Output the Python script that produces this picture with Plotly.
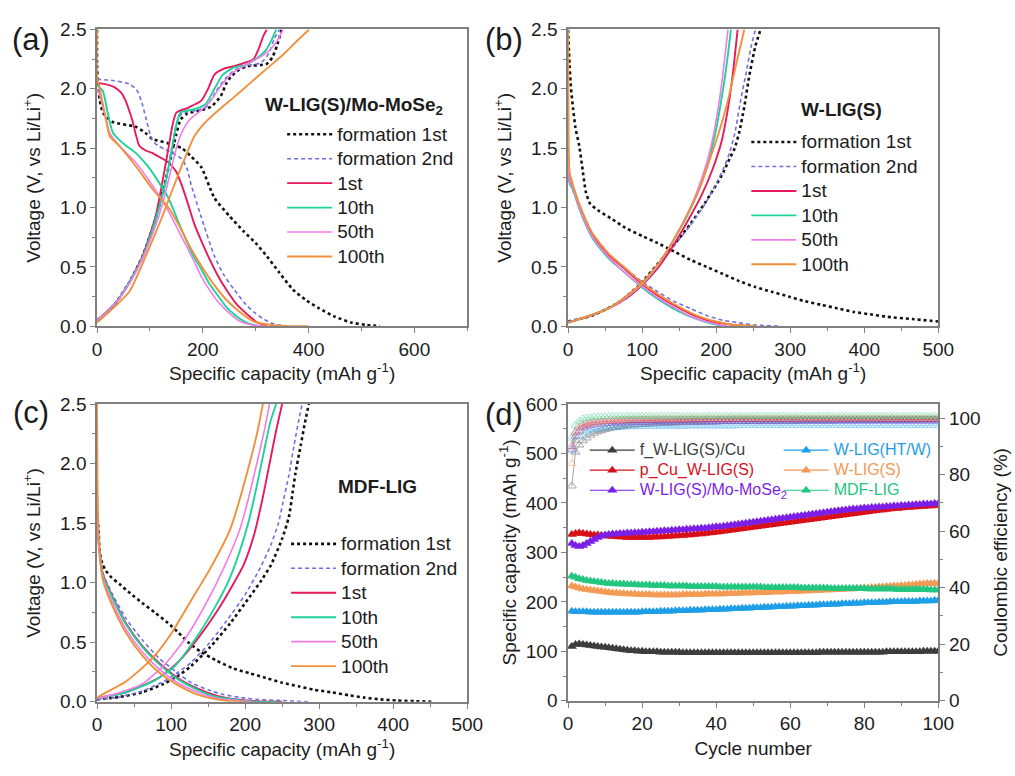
import plotly.graph_objects as go

W, H = 1015, 776
FONT = "Liberation Sans, Arial, sans-serif"
INK = "#1c1c1c"
FRAME = "#808080"

# ---------------- galvanostatic profiles: (capacity mAh/g, voltage V) ----------------
CYCLE_NAMES = ["formation 1st", "formation 2nd", "1st", "10th", "50th", "100th"]
CYCLE_COLORS = ["#111111", "#6f6fe0", "#e8195a", "#1dd39a", "#f07de8", "#f0903c"]
CYCLE_DASH = ["dot", "4px,3px", "solid", "solid", "solid", "solid"]
CYCLE_WIDTH = [2.6, 1.6, 1.9, 1.9, 1.6, 1.9]

# (a) W-LIG(S)/Mo-MoSe2
A_F1_DIS = [(0, 2.5), (0, 2.2), (2, 2.03), (5, 1.91), (11, 1.80), (30, 1.72), (73, 1.68), (91, 1.63),
            (104, 1.58), (135, 1.54), (160, 1.50), (178, 1.43), (197, 1.34), (222, 1.08), (250, 0.93),
            (277, 0.80), (300, 0.70), (321, 0.59), (345, 0.45), (370, 0.31), (395, 0.22), (420, 0.15),
            (450, 0.08), (482, 0.03), (510, 0.01), (535, 0.0)]
A_F1_CHG = [(0, 0.05), (20, 0.12), (36, 0.2), (61, 0.37), (86, 0.59), (111, 0.91), (129, 1.22), (141, 1.45),
            (150, 1.62), (158, 1.74), (170, 1.79), (197, 1.82), (216, 1.85), (234, 1.94), (245, 2.05),
            (253, 2.1), (268, 2.16), (284, 2.19), (321, 2.21), (332, 2.27), (340, 2.36), (349, 2.5)]
A_F2_DIS = [(0, 2.08), (30, 2.07), (61, 2.04), (75, 1.99), (85, 1.88), (92, 1.76), (104, 1.57), (115, 1.52),
            (129, 1.49), (160, 1.41), (170, 1.33), (178, 1.19), (197, 0.92), (222, 0.59), (240, 0.43),
            (259, 0.31), (280, 0.19), (296, 0.12), (315, 0.06), (333, 0.02), (362, 0.0)]
A_F2_CHG = [(0, 0.05), (36, 0.2), (61, 0.37), (86, 0.59), (111, 0.91), (129, 1.22), (141, 1.5), (150, 1.7),
            (160, 1.79), (190, 1.82), (205, 1.84), (225, 1.98), (245, 2.1), (265, 2.17), (290, 2.2),
            (310, 2.22), (325, 2.3), (335, 2.42), (345, 2.5)]
A_C1_DIS = [(0, 2.05), (15, 2.04), (30, 2.02), (45, 1.97), (54, 1.9), (62, 1.8), (67, 1.73), (73, 1.62),
            (80, 1.52), (92, 1.48), (104, 1.46), (120, 1.42), (135, 1.38), (150, 1.30), (160, 1.19),
            (172, 1.03), (184, 0.86), (197, 0.72), (210, 0.59), (228, 0.43), (247, 0.29), (265, 0.18),
            (284, 0.10), (300, 0.04), (321, 0.0)]
A_C1_CHG = [(0, 0.05), (36, 0.2), (61, 0.37), (86, 0.59), (111, 0.93), (125, 1.25), (135, 1.5), (143, 1.7),
            (150, 1.8), (172, 1.84), (197, 1.9), (210, 2.0), (222, 2.12), (240, 2.17), (259, 2.19),
            (280, 2.22), (296, 2.25), (305, 2.33), (315, 2.45), (321, 2.5)]
A_C10_DIS = [(0, 2.03), (11, 1.98), (20, 1.8), (30, 1.63), (42, 1.57), (55, 1.52), (73, 1.46), (90, 1.38),
             (104, 1.30), (120, 1.19), (135, 1.08), (150, 0.92), (166, 0.75), (180, 0.61), (197, 0.48),
             (212, 0.36), (228, 0.26), (243, 0.17), (259, 0.10), (278, 0.04), (296, 0.01), (310, 0.0)]
A_C10_CHG = [(0, 0.05), (36, 0.2), (61, 0.37), (86, 0.58), (111, 0.9), (129, 1.2), (142, 1.5), (150, 1.7),
             (158, 1.8), (185, 1.83), (205, 1.87), (222, 2.0), (238, 2.12), (259, 2.18), (280, 2.2),
             (300, 2.25), (320, 2.33), (332, 2.43), (339, 2.5)]
A_C50_DIS = [(0, 2.0), (5, 1.95), (11, 1.84), (18, 1.72), (24, 1.63), (42, 1.52), (73, 1.38), (104, 1.19),
             (135, 0.97), (150, 0.84), (166, 0.70), (182, 0.56), (197, 0.42), (212, 0.31), (228, 0.21),
             (250, 0.11), (271, 0.04), (295, 0.01), (320, 0.0)]
A_C50_CHG = [(0, 0.05), (36, 0.2), (61, 0.36), (86, 0.57), (111, 0.85), (125, 1.05), (140, 1.32), (150, 1.5),
             (160, 1.63), (175, 1.74), (197, 1.82), (215, 1.9), (235, 2.03), (255, 2.13), (280, 2.2),
             (305, 2.26), (325, 2.32), (340, 2.4), (352, 2.5)]
A_C100_DIS = [(0, 2.5), (0, 2.1), (5, 2.0), (11, 1.87), (18, 1.72), (24, 1.6), (42, 1.52), (73, 1.35),
              (104, 1.16), (135, 1.0), (155, 0.85), (172, 0.70), (190, 0.56), (210, 0.42), (228, 0.31),
              (247, 0.21), (270, 0.12), (296, 0.04), (330, 0.01), (362, 0.0), (400, 0.0)]
A_C100_CHG = [(0, 0.03), (30, 0.15), (61, 0.29), (92, 0.59), (123, 0.92), (140, 1.12), (160, 1.35),
              (172, 1.48), (184, 1.6), (197, 1.68), (210, 1.74), (235, 1.84), (259, 1.93), (290, 2.05),
              (321, 2.17), (350, 2.28), (375, 2.39), (401, 2.5)]

# (b) W-LIG(S)
B_F1_DIS = [(0, 2.5), (2, 2.2), (4, 2.0), (6.6, 1.84), (10, 1.67), (15, 1.52), (20, 1.3), (24, 1.13),
            (30, 1.03), (42, 0.97), (60, 0.9), (77, 0.83), (100, 0.76), (121, 0.70), (143, 0.63),
            (165, 0.56), (187, 0.50), (209, 0.44), (231, 0.38), (253, 0.33), (275, 0.29), (298, 0.25),
            (320, 0.21), (342, 0.18), (364, 0.15), (386, 0.12), (408, 0.10), (430, 0.08), (465, 0.06),
            (500, 0.04)]
B_F1_CHG = [(0, 0.04), (33, 0.09), (68, 0.2), (95, 0.34), (130, 0.59), (150, 0.74), (165, 0.86), (185, 1.04),
            (200, 1.19), (210, 1.3), (218, 1.41), (225, 1.5), (231, 1.63), (238, 1.85), (245, 2.12),
            (253, 2.36), (260, 2.5)]
B_F2_DIS = [(0, 1.5), (2, 1.27), (6, 1.15), (15, 1.02), (33, 0.78), (55, 0.61), (77, 0.49), (99, 0.38),
            (121, 0.29), (143, 0.21), (165, 0.15), (187, 0.09), (209, 0.05), (230, 0.03), (253, 0.01),
            (285, 0.0)]
B_F2_CHG = [(0, 0.04), (33, 0.09), (68, 0.2), (95, 0.33), (130, 0.58), (150, 0.73), (165, 0.85), (185, 1.03),
            (200, 1.2), (210, 1.33), (218, 1.46), (225, 1.62), (233, 1.9), (240, 2.12), (247, 2.35),
            (253, 2.5)]
B_C1_DIS = [(0, 1.3), (2, 1.22), (6.6, 1.17), (15, 1.02), (33, 0.77), (55, 0.6), (77, 0.48), (99, 0.36),
            (121, 0.26), (148, 0.16), (174, 0.08), (200, 0.03), (225, 0.01), (245, 0.0)]
B_C1_CHG = [(0, 0.03), (30, 0.09), (55, 0.15), (80, 0.24), (99, 0.34), (120, 0.48), (140, 0.66), (160, 0.87),
            (180, 1.1), (195, 1.32), (207, 1.55), (215, 1.8), (222, 2.1), (229, 2.5)]
B_C10_DIS = [(0, 1.3), (2, 1.2), (6.6, 1.15), (15, 0.99), (33, 0.74), (55, 0.57), (77, 0.45), (99, 0.33),
             (121, 0.23), (148, 0.13), (174, 0.06), (195, 0.02), (210, 0.0)]
B_C10_CHG = [(0, 0.03), (30, 0.09), (55, 0.15), (80, 0.25), (99, 0.35), (120, 0.5), (140, 0.7), (160, 0.92),
             (176, 1.14), (188, 1.35), (198, 1.6), (206, 1.87), (213, 2.15), (220, 2.5)]
B_C50_DIS = [(0, 1.4), (2, 1.22), (6.6, 1.16), (15, 1.0), (33, 0.75), (55, 0.58), (77, 0.45), (99, 0.34),
             (121, 0.24), (148, 0.14), (174, 0.06), (198, 0.02), (215, 0.0)]
B_C50_CHG = [(0, 0.03), (30, 0.09), (55, 0.15), (80, 0.25), (99, 0.35), (120, 0.5), (140, 0.7), (160, 0.93),
             (175, 1.15), (187, 1.37), (196, 1.6), (203, 1.85), (209, 2.12), (216, 2.5)]
B_C100_DIS = [(0, 2.5), (0.5, 1.9), (2, 1.3), (6.6, 1.19), (15, 1.03), (33, 0.78), (55, 0.61), (77, 0.49),
              (99, 0.37), (121, 0.27), (148, 0.17), (174, 0.09), (200, 0.04), (225, 0.01), (255, 0.0)]
B_C100_CHG = [(0, 0.03), (30, 0.09), (55, 0.15), (80, 0.26), (99, 0.36), (120, 0.51), (140, 0.7), (160, 0.93),
              (177, 1.15), (190, 1.38), (203, 1.62), (215, 1.88), (226, 2.18), (238, 2.5)]

# (c) MDF-LIG
C_F1_DIS = [(0, 1.59), (2, 1.45), (3.5, 1.26), (7, 1.16), (12, 1.10), (20, 1.04), (30, 0.99), (45, 0.91),
            (61, 0.83), (78, 0.75), (96, 0.66), (110, 0.58), (123, 0.50), (140, 0.42), (160, 0.35),
            (184, 0.28), (206, 0.24), (228, 0.20), (250, 0.16), (272, 0.13), (294, 0.10), (316, 0.08),
            (340, 0.055), (361, 0.035), (383, 0.02), (405, 0.01), (430, 0.005), (455, 0.0)]
C_F1_CHG = [(0, 0.02), (30, 0.04), (61, 0.08), (90, 0.15), (110, 0.22), (127, 0.3), (153, 0.46), (180, 0.66),
            (206, 0.88), (222, 1.02), (235, 1.15), (250, 1.37), (259, 1.55), (264, 1.75), (268, 1.92),
            (275, 2.15), (281, 2.35), (286, 2.5)]
C_F2_DIS = [(0, 1.55), (3, 1.28), (8, 1.08), (21, 0.9), (39, 0.7), (61, 0.52), (83, 0.37), (109, 0.24),
            (127, 0.16), (150, 0.1), (171, 0.06), (195, 0.035), (215, 0.02), (250, 0.01), (285, 0.0)]
C_F2_CHG = [(0, 0.02), (30, 0.04), (61, 0.09), (90, 0.17), (110, 0.25), (127, 0.33), (150, 0.48), (175, 0.68),
            (200, 0.9), (220, 1.12), (235, 1.32), (245, 1.5), (252, 1.7), (259, 1.9), (266, 2.15),
            (272, 2.35), (277, 2.5)]
C_C1_DIS = [(0, 1.6), (3, 1.3), (8, 1.07), (21, 0.88), (39, 0.66), (61, 0.47), (83, 0.33), (109, 0.20),
            (136, 0.11), (162, 0.05), (189, 0.02), (215, 0.005), (250, 0.0)]
C_C1_CHG = [(0, 0.03), (39, 0.08), (83, 0.20), (109, 0.33), (136, 0.53), (162, 0.76), (185, 1.0), (198, 1.15),
            (212, 1.4), (224, 1.72), (233, 2.0), (242, 2.28), (250, 2.5)]
C_C10_DIS = [(0, 1.55), (3, 1.28), (8, 1.06), (21, 0.87), (39, 0.65), (61, 0.46), (83, 0.32), (109, 0.19),
             (136, 0.1), (162, 0.04), (189, 0.015), (215, 0.0), (245, 0.0)]
C_C10_CHG = [(0, 0.03), (39, 0.08), (78, 0.18), (105, 0.3), (132, 0.52), (158, 0.78), (178, 1.02),
             (192, 1.25), (205, 1.52), (216, 1.82), (226, 2.12), (234, 2.35), (242, 2.5)]
C_C50_DIS = [(0, 1.55), (3, 1.25), (8, 1.04), (21, 0.83), (39, 0.61), (61, 0.42), (83, 0.28), (109, 0.16),
             (136, 0.08), (162, 0.03), (189, 0.01), (210, 0.0)]
C_C50_CHG = [(0, 0.03), (21, 0.06), (61, 0.15), (91, 0.31), (118, 0.52), (145, 0.8), (171, 1.12), (193, 1.45),
             (205, 1.72), (215, 1.98), (225, 2.25), (233, 2.5)]
C_C100_DIS = [(0, 2.5), (0.5, 1.9), (2, 1.4), (4, 1.2), (8, 1.02), (21, 0.8), (39, 0.58), (61, 0.39),
              (83, 0.25), (109, 0.14), (136, 0.06), (162, 0.02), (190, 0.0), (200, 0.0)]
C_C100_CHG = [(0, 0.03), (4, 0.05), (39, 0.17), (74, 0.36), (101, 0.58), (127, 0.85), (153, 1.12),
              (180, 1.45), (195, 1.75), (206, 2.0), (216, 2.25), (224, 2.5)]

PANEL_A = [(A_F1_DIS, A_F1_CHG), (A_F2_DIS, A_F2_CHG), (A_C1_DIS, A_C1_CHG),
           (A_C10_DIS, A_C10_CHG), (A_C50_DIS, A_C50_CHG), (A_C100_DIS, A_C100_CHG)]
PANEL_B = [(B_F1_DIS, B_F1_CHG), (B_F2_DIS, B_F2_CHG), (B_C1_DIS, B_C1_CHG),
           (B_C10_DIS, B_C10_CHG), (B_C50_DIS, B_C50_CHG), (B_C100_DIS, B_C100_CHG)]
PANEL_C = [(C_F1_DIS, C_F1_CHG), (C_F2_DIS, C_F2_CHG), (C_C1_DIS, C_C1_CHG),
           (C_C10_DIS, C_C10_CHG), (C_C50_DIS, C_C50_CHG), (C_C100_DIS, C_C100_CHG)]

# ---------------- (d) cycling: specific capacity (mAh/g) and Coulombic efficiency (%) ----------------
CYCLE_NO = list(range(1, 101))

CAP_F_WLIG_CU = [110, 114, 115, 114, 113, 112, 111, 110, 109, 108,
                 107, 106, 105, 104, 103, 102, 101, 101, 100, 100,
                 99, 99, 99, 99, 98, 98, 98, 98, 98, 98,
                 97, 97, 97, 97, 97, 97, 97, 97, 97, 97,
                 97, 97, 97, 97, 97, 97, 97, 97, 97, 97,
                 97, 97, 97, 97, 97, 97, 97, 97, 97, 97,
                 97, 97, 97, 97, 97, 97, 97, 98, 98, 98,
                 98, 98, 98, 98, 98, 98, 98, 98, 98, 98,
                 98, 98, 98, 98, 98, 99, 99, 99, 99, 99,
                 99, 99, 99, 99, 99, 100, 100, 100, 100, 100]
CAP_P_CU_WLIG = [336, 338, 339, 338, 337, 336, 335, 335, 334, 333,
                 333, 332, 332, 331, 331, 330, 330, 330, 330, 330,
                 330, 330, 331, 331, 331, 332, 332, 333, 333, 334,
                 334, 335, 335, 336, 337, 337, 338, 339, 340, 341,
                 342, 343, 344, 345, 346, 347, 348, 349, 350, 351,
                 352, 353, 354, 355, 356, 357, 358, 359, 360, 361,
                 362, 363, 364, 365, 366, 367, 368, 369, 370, 371,
                 372, 373, 374, 375, 376, 377, 378, 379, 380, 381,
                 382, 383, 384, 385, 386, 387, 388, 389, 389, 390,
                 391, 391, 392, 392, 393, 393, 394, 394, 395, 395]
CAP_MO_MOSE2 = [318, 314, 312, 314, 318, 322, 326, 330, 333, 335,
                336, 337, 337, 338, 338, 339, 339, 340, 340, 341,
                341, 342, 342, 343, 343, 344, 344, 345, 345, 346,
                346, 347, 347, 348, 348, 349, 349, 350, 351, 352,
                352, 353, 354, 355, 356, 357, 358, 359, 360, 361,
                362, 363, 364, 365, 366, 367, 368, 369, 370, 371,
                372, 373, 374, 375, 376, 377, 378, 379, 380, 381,
                382, 383, 384, 385, 386, 387, 388, 388, 389, 390,
                390, 391, 391, 392, 392, 393, 393, 394, 394, 395,
                395, 396, 396, 397, 397, 398, 398, 398, 399, 399]
CAP_HT_W = [181, 180, 180, 180, 180, 179, 179, 179, 179, 179,
            179, 179, 179, 179, 179, 179, 179, 179, 179, 180,
            180, 180, 180, 180, 181, 181, 181, 181, 182, 182,
            182, 182, 183, 183, 183, 183, 184, 184, 184, 184,
            185, 185, 185, 186, 186, 186, 187, 187, 187, 188,
            188, 188, 189, 189, 189, 190, 190, 190, 191, 191,
            191, 192, 192, 192, 193, 193, 193, 194, 194, 194,
            195, 195, 195, 196, 196, 196, 197, 197, 197, 198,
            198, 198, 198, 199, 199, 199, 200, 200, 200, 200,
            201, 201, 201, 201, 202, 202, 202, 202, 203, 203]
CAP_WLIG_S = [232, 230, 228, 226, 225, 224, 223, 222, 221, 220,
              219, 218, 218, 217, 217, 216, 216, 216, 215, 215,
              215, 215, 214, 214, 214, 214, 214, 214, 214, 214,
              215, 215, 215, 215, 215, 215, 216, 216, 216, 216,
              216, 216, 217, 217, 217, 217, 218, 218, 218, 218,
              219, 219, 219, 219, 220, 220, 220, 220, 221, 221,
              221, 221, 222, 222, 222, 223, 223, 223, 224, 224,
              224, 225, 225, 225, 226, 226, 226, 227, 227, 228,
              228, 229, 229, 230, 230, 231, 231, 232, 232, 233,
              233, 234, 234, 235, 236, 236, 237, 237, 237, 237]
CAP_MDF_LIG = [252, 250, 247, 245, 243, 242, 241, 240, 239, 238,
               237, 237, 236, 236, 236, 235, 235, 235, 234, 234,
               234, 234, 233, 233, 233, 233, 232, 232, 232, 232,
               232, 232, 231, 231, 231, 231, 231, 231, 231, 231,
               230, 230, 230, 230, 230, 230, 230, 230, 230, 230,
               230, 230, 229, 229, 229, 229, 229, 229, 229, 229,
               229, 229, 228, 228, 228, 228, 228, 228, 228, 228,
               227, 227, 227, 227, 227, 227, 227, 227, 227, 227,
               226, 226, 226, 226, 226, 226, 226, 226, 225, 225,
               225, 225, 225, 225, 225, 225, 225, 224, 224, 224]

CE_F_WLIG_CU = [76, 88, 90.5, 92, 93, 94, 94.7, 95.2, 95.6, 96,
                96.3, 96.6, 96.8, 97, 97.2, 97.4, 97.5, 97.6, 97.7, 97.8,
                97.9, 98, 98, 98.1, 98.2, 98.2, 98.3, 98.3, 98.4, 98.4,
                98.5, 98.5, 98.5, 98.6, 98.6, 98.6, 98.7, 98.7, 98.7, 98.7,
                98.8, 98.8, 98.8, 98.8, 98.8, 98.9, 98.9, 98.9, 98.9, 98.9,
                98.9, 99, 99, 99, 99, 99, 99, 99, 99, 99,
                99, 99, 99.1, 99.1, 99.1, 99.1, 99.1, 99.1, 99.1, 99.1,
                99.1, 99.1, 99.2, 99.2, 99.2, 99.2, 99.2, 99.2, 99.2, 99.2,
                99.2, 99.2, 99.2, 99.3, 99.3, 99.3, 99.3, 99.3, 99.3, 99.3,
                99.3, 99.3, 99.3, 99.3, 99.4, 99.4, 99.4, 99.4, 99.4, 99.4]
CE_P_CU_WLIG = [90, 95, 96.8, 97.6, 98, 98.3, 98.5, 98.6, 98.7, 98.8,
                98.9, 98.9, 99, 99, 99, 99.1, 99.1, 99.1, 99.1, 99.2,
                99.2, 99.2, 99.2, 99.2, 99.3, 99.3, 99.3, 99.3, 99.3, 99.3,
                99.3, 99.3, 99.4, 99.4, 99.4, 99.4, 99.4, 99.4, 99.4, 99.4,
                99.4, 99.4, 99.4, 99.4, 99.5, 99.5, 99.5, 99.5, 99.5, 99.5,
                99.5, 99.5, 99.5, 99.5, 99.5, 99.5, 99.5, 99.5, 99.5, 99.5,
                99.5, 99.5, 99.5, 99.5, 99.5, 99.5, 99.5, 99.5, 99.5, 99.5,
                99.5, 99.5, 99.5, 99.5, 99.5, 99.5, 99.5, 99.5, 99.5, 99.5,
                99.5, 99.5, 99.5, 99.5, 99.5, 99.5, 99.5, 99.5, 99.5, 99.5,
                99.5, 99.5, 99.5, 99.5, 99.5, 99.5, 99.5, 99.5, 99.5, 99.5]
CE_MO_MOSE2 = [89, 93.5, 95.5, 96.5, 97, 97.4, 97.7, 97.9, 98, 98.1,
               98.2, 98.2, 98.3, 98.3, 98.4, 98.4, 98.4, 98.5, 98.5, 98.5,
               98.5, 98.5, 98.6, 98.6, 98.6, 98.6, 98.6, 98.6, 98.6, 98.7,
               98.7, 98.7, 98.7, 98.7, 98.7, 98.7, 98.7, 98.7, 98.7, 98.7,
               98.8, 98.8, 98.8, 98.8, 98.8, 98.8, 98.8, 98.8, 98.8, 98.8,
               98.8, 98.8, 98.8, 98.8, 98.8, 98.8, 98.8, 98.8, 98.8, 98.8,
               98.9, 98.9, 98.9, 98.9, 98.9, 98.9, 98.9, 98.9, 98.9, 98.9,
               98.9, 98.9, 98.9, 98.9, 98.9, 98.9, 98.9, 98.9, 98.9, 98.9,
               98.9, 98.9, 98.9, 98.9, 98.9, 98.9, 98.9, 98.9, 98.9, 98.9,
               98.9, 98.9, 98.9, 98.9, 98.9, 98.9, 98.9, 98.9, 98.9, 98.9]
CE_HT_W = [88.5, 92, 93.8, 94.8, 95.4, 95.8, 96.1, 96.3, 96.5, 96.6,
           96.7, 96.8, 96.8, 96.9, 96.9, 97, 97, 97, 97, 97.1,
           97.1, 97.1, 97.1, 97.1, 97.2, 97.2, 97.2, 97.2, 97.2, 97.2,
           97.2, 97.2, 97.3, 97.3, 97.3, 97.3, 97.3, 97.3, 97.3, 97.3,
           97.3, 97.3, 97.3, 97.3, 97.3, 97.4, 97.4, 97.4, 97.4, 97.4,
           97.4, 97.4, 97.4, 97.4, 97.4, 97.4, 97.4, 97.4, 97.4, 97.4,
           97.4, 97.4, 97.4, 97.4, 97.4, 97.4, 97.4, 97.4, 97.4, 97.4,
           97.4, 97.4, 97.4, 97.4, 97.4, 97.4, 97.4, 97.4, 97.4, 97.4,
           97.4, 97.4, 97.4, 97.4, 97.4, 97.4, 97.4, 97.4, 97.4, 97.4,
           97.4, 97.4, 97.4, 97.4, 97.4, 97.4, 97.4, 97.4, 97.4, 97.4]
CE_WLIG_S = [84, 92.5, 95.5, 96.8, 97.5, 98, 98.3, 98.6, 98.8, 99,
             99.1, 99.2, 99.3, 99.4, 99.4, 99.5, 99.5, 99.6, 99.6, 99.6,
             99.7, 99.7, 99.7, 99.7, 99.8, 99.8, 99.8, 99.8, 99.8, 99.8,
             99.8, 99.8, 99.9, 99.9, 99.9, 99.9, 99.9, 99.9, 99.9, 99.9,
             99.9, 99.9, 99.9, 99.9, 99.9, 99.9, 99.9, 99.9, 99.9, 99.9,
             99.9, 99.9, 99.9, 99.9, 99.9, 99.9, 99.9, 99.9, 99.9, 99.9,
             99.9, 99.9, 99.9, 99.9, 99.9, 99.9, 99.9, 99.9, 99.9, 99.9,
             99.9, 99.9, 99.9, 99.9, 99.9, 99.9, 99.9, 99.9, 99.9, 99.9,
             99.9, 99.9, 99.9, 99.9, 99.9, 99.9, 99.9, 99.9, 99.9, 99.9,
             99.9, 99.9, 99.9, 99.9, 99.9, 99.9, 99.9, 99.9, 99.9, 99.9]
CE_MDF_LIG = [93, 97.5, 99, 99.7, 100.1, 100.3, 100.4, 100.5, 100.5, 100.6,
              100.6, 100.6, 100.6, 100.7, 100.7, 100.7, 100.7, 100.7, 100.7, 100.7,
              100.7, 100.7, 100.7, 100.7, 100.7, 100.7, 100.7, 100.7, 100.7, 100.7,
              100.7, 100.7, 100.7, 100.7, 100.7, 100.7, 100.7, 100.7, 100.7, 100.7,
              100.7, 100.7, 100.7, 100.7, 100.7, 100.7, 100.7, 100.7, 100.7, 100.7,
              100.7, 100.7, 100.7, 100.7, 100.7, 100.7, 100.7, 100.7, 100.7, 100.7,
              100.7, 100.7, 100.7, 100.7, 100.7, 100.7, 100.7, 100.7, 100.7, 100.7,
              100.7, 100.7, 100.7, 100.7, 100.7, 100.7, 100.7, 100.7, 100.7, 100.7,
              100.7, 100.7, 100.7, 100.7, 100.7, 100.7, 100.7, 100.7, 100.7, 100.7,
              100.7, 100.7, 100.7, 100.7, 100.7, 100.7, 100.7, 100.7, 100.7, 100.7]

D_NAMES = ["f_W-LIG(S)/Cu", "p_Cu_W-LIG(S)", "W-LIG(S)/Mo-MoSe<sub>2</sub>",
           "W-LIG(HT/W)", "W-LIG(S)", "MDF-LIG"]
D_COLORS = ["#3d3d3d", "#d8101a", "#7b1fe8", "#1f9ee8", "#f39a55", "#22c67f"]
D_CAP = [CAP_F_WLIG_CU, CAP_P_CU_WLIG, CAP_MO_MOSE2, CAP_HT_W, CAP_WLIG_S, CAP_MDF_LIG]
D_CE = [CE_F_WLIG_CU, CE_P_CU_WLIG, CE_MO_MOSE2, CE_HT_W, CE_WLIG_S, CE_MDF_LIG]
D_LEGEND = ["legend4", "legend4", "legend4", "legend5", "legend5", "legend5"]

# legend row pitch is driven by the legend font size; the shown text size is set per entry
PROFILE_TEXT_PX = 19
PROFILE_ROW_FONT = 16.5
CYCLING_TEXT_PX = 16
CYCLING_ROW_FONT = 13.1

fig = go.Figure()


def add_profiles(panel, xa, ya, legend):
    for i, (dis, chg) in enumerate(panel):
        for j, curve in enumerate((dis, chg)):
            fig.add_trace(go.Scatter(
                x=[p[0] for p in curve], y=[p[1] for p in curve],
                mode="lines", xaxis=xa, yaxis=ya,
                name=f"<span style='font-size:{PROFILE_TEXT_PX}px'>{CYCLE_NAMES[i]}</span>",
                line=dict(color=CYCLE_COLORS[i], dash=CYCLE_DASH[i], width=CYCLE_WIDTH[i],
                          shape="spline", smoothing=0.6),
                legend=legend, showlegend=(j == 0),
            ))


add_profiles(PANEL_A, "x", "y", "legend")
add_profiles(PANEL_B, "x2", "y2", "legend2")
add_profiles(PANEL_C, "x3", "y3", "legend3")

# Coulombic efficiency (open symbols, right axis)
for i in range(6):
    fig.add_trace(go.Scatter(
        x=CYCLE_NO, y=D_CE[i], mode="lines+markers", xaxis="x4", yaxis="y5",
        line=dict(color=D_COLORS[i], width=1), opacity=0.45,
        marker=dict(symbol="triangle-up-open", size=8, color=D_COLORS[i], line=dict(width=1)),
        showlegend=False,
    ))

# specific capacity (filled symbols, left axis)
for i in range(6):
    fig.add_trace(go.Scatter(
        x=CYCLE_NO, y=D_CAP[i], mode="lines+markers", xaxis="x4", yaxis="y4",
        name=f"<span style='color:{D_COLORS[i]};font-size:{CYCLING_TEXT_PX}px'>{D_NAMES[i]}</span>",
        line=dict(color=D_COLORS[i], width=1.2),
        marker=dict(symbol="triangle-up", size=9, color=D_COLORS[i]),
        legend=D_LEGEND[i],
    ))


def px_x(p):
    return p / W


def px_y(p):
    return 1 - p / H


AX_FONT = dict(family=FONT, size=19, color=INK)


def axis(domain, rng, dtick, minor, title, fmt=None, anchor=None, side=None, overlaying=None,
         standoff=8, mirror=True):
    d = dict(domain=domain, range=rng, dtick=dtick, tick0=0, showgrid=False, zeroline=False,
             showline=True, linecolor=FRAME, linewidth=1.6, mirror=mirror,
             ticks="outside", ticklen=5, tickwidth=1.3, tickcolor=FRAME,
             minor=dict(dtick=minor, ticks="outside", ticklen=3, tickwidth=1, tickcolor=FRAME),
             tickfont=AX_FONT, title=dict(text=title, font=AX_FONT, standoff=standoff))
    if fmt:
        d["tickformat"] = fmt
    if anchor:
        d["anchor"] = anchor
    if side:
        d["side"] = side
    if overlaying:
        d["overlaying"] = overlaying
    return d


XA = [px_x(94), px_x(472)]
XB = [px_x(575), px_x(953)]
YTOP = [px_y(325), px_y(20)]
YBOT = [px_y(711), px_y(405)]

CAP_TITLE = "Specific capacity (mAh g<sup>-1</sup>)"
V_TITLE = "Voltage (V, vs Li/Li<sup>+</sup>)"

layout = dict(
    width=W, height=H, margin=dict(l=0, r=0, t=0, b=0),
    paper_bgcolor="white", plot_bgcolor="white",
    font=dict(family=FONT, color=INK),
    xaxis=axis(XA, [0, 700], 200, 100, CAP_TITLE, anchor="y"),
    yaxis=axis(YTOP, [0, 2.5], 0.5, 0.25, V_TITLE, fmt=".1f", anchor="x", standoff=14),
    xaxis2=axis(XB, [0, 500], 100, 50, CAP_TITLE, anchor="y2"),
    yaxis2=axis(YTOP, [0, 2.5], 0.5, 0.25, V_TITLE, fmt=".1f", anchor="x2", standoff=14),
    xaxis3=axis(XA, [0, 500], 100, 50, CAP_TITLE, anchor="y3"),
    yaxis3=axis(YBOT, [0, 2.5], 0.5, 0.25, V_TITLE, fmt=".1f", anchor="x3", standoff=14),
    xaxis4=axis(XB, [0, 100], 20, 10, "Cycle number", anchor="y4"),
    yaxis4=axis([px_y(710), px_y(405)], [0, 600], 100, 50, CAP_TITLE, anchor="x4", mirror=False,
                standoff=4),
    yaxis5=axis([px_y(710), px_y(405)], [0, 105], 20, 10, "Coulombic efficiency (%)",
                anchor="x4", side="right", overlaying="y4", mirror=False, standoff=14),
)


def legend_box(x_line, top_px, row_font, text_color=INK):
    return dict(x=px_x(x_line - 5), y=px_y(top_px), xanchor="left", yanchor="top",
                bgcolor="rgba(0,0,0,0)", borderwidth=0,
                font=dict(family=FONT, size=row_font, color=text_color),
                tracegroupgap=0, itemwidth=45, traceorder="normal")


layout["legend"] = legend_box(288, 110, PROFILE_ROW_FONT)
layout["legend2"] = legend_box(762, 118, PROFILE_ROW_FONT)
layout["legend3"] = legend_box(292, 531, PROFILE_ROW_FONT)
layout["legend4"] = legend_box(597, 437, CYCLING_ROW_FONT)
layout["legend5"] = legend_box(795, 437, CYCLING_ROW_FONT)

ann = []
for txt, xp, yp in [("(a)", 27, 30), ("(b)", 510, 30), ("(c)", 27, 414), ("(d)", 510, 416)]:
    ann.append(dict(text=txt, x=px_x(xp), y=px_y(yp), xref="paper", yref="paper", showarrow=False,
                    xanchor="center", yanchor="middle", font=dict(family=FONT, size=31, color=INK)))
for txt, xp, yp in [("W-LIG(S)/Mo-MoSe<sub>2</sub>", 356, 99), ("W-LIG(S)", 854, 102), ("MDF-LIG", 380, 490)]:
    ann.append(dict(text=f"<b>{txt}</b>", x=px_x(xp), y=px_y(yp), xref="paper", yref="paper",
                    showarrow=False, xanchor="center", yanchor="middle",
                    font=dict(family=FONT, size=19, color=INK)))
layout["annotations"] = ann

fig.update_layout(**layout)
fig.write_html("out.html")
